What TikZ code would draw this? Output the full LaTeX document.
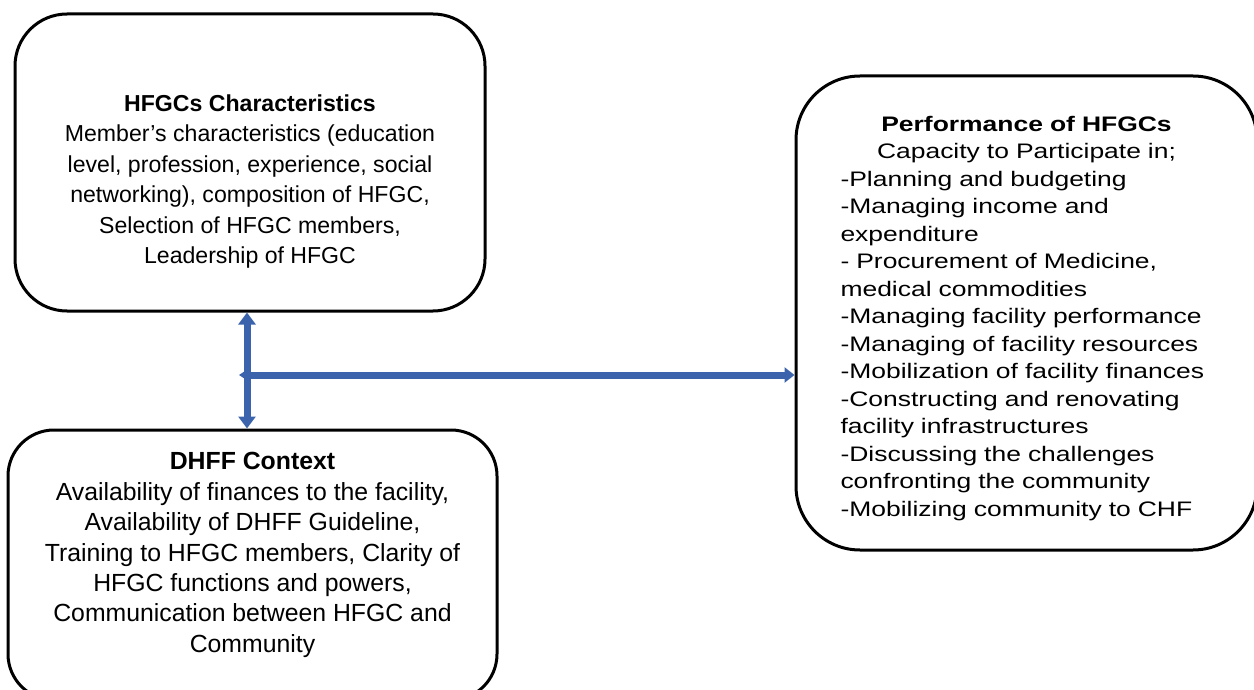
\documentclass[tikz,border=0pt]{standalone}
\usepackage{fontspec}
\setmainfont{Liberation Sans}
\newfontfamily\widefont[FakeStretch=1.26]{Liberation Sans}
\usetikzlibrary{arrows.meta}
\definecolor{linkblue}{RGB}{59,100,173}
\tikzset{
    frame/.style={draw=black,line width=1.5pt,rounded corners=#1,inner sep=0pt},
    link/.style={draw=linkblue,line width=3.5pt}
}

\begin{document}
\begin{tikzpicture}[x=0.5pt,y=-0.5pt]
    \useasboundingbox (0,0) rectangle (1254,690);
    \node[frame=26pt,minimum width=235pt,minimum height=148.5pt] (A) at (250,162.5) {};
    \node[frame=23pt,minimum width=244.5pt,minimum height=135pt] (B) at (252.5,565) {};
    \node[frame=32pt,minimum width=230.5pt,minimum height=237pt] (C) at (1026.5,313) {};
    \node[align=center,font=\fontsize{11.55}{15.2}\selectfont] (At) at (250,181.5)
        {\textbf{HFGCs Characteristics}\\Member’s characteristics (education\\level, profession, experience, social\\networking), composition of HFGC,\\Selection of HFGC members,\\Leadership of HFGC};
    \node[align=center,font=\fontsize{12.4}{15.2}\selectfont] (Bt) at (252.5,555)
        {\textbf{DHFF Context}\\Availability of finances to the facility,\\Availability of DHFF Guideline,\\Training to HFGC members, Clarity of\\HFGC functions and powers,\\Communication between HFGC and\\Community};
    \node[text width=186pt,font=\widefont\fontsize{10.5}{13.75}\selectfont] (Ct) at (1026.5,318.5)
        {\centering\textbf{Performance of HFGCs}\\Capacity to Participate in;\par
        \raggedright -Planning and budgeting\\-Managing income and\\expenditure\\- Procurement of Medicine,\\medical commodities\\-Managing facility performance\\-Managing of facility resources\\-Mobilization of facility finances\\-Constructing and renovating\\facility infrastructures\\-Discussing the challenges\\confronting the community\\-Mobilizing community to CHF\par};
    \coordinate (M) at (239,375);
    \coordinate (V) at (247,375);
    \draw[link,{Triangle[width=8.5pt,length=6pt]}-{Triangle[width=8.5pt,length=6pt]}] (A.south -| V)--(B.north -| V);
    \draw[link,{Triangle[width=5pt,length=4pt]}-{Triangle[width=7.5pt,length=5pt]}] (M)--(M -| C.west);
\end{tikzpicture}
\end{document}
